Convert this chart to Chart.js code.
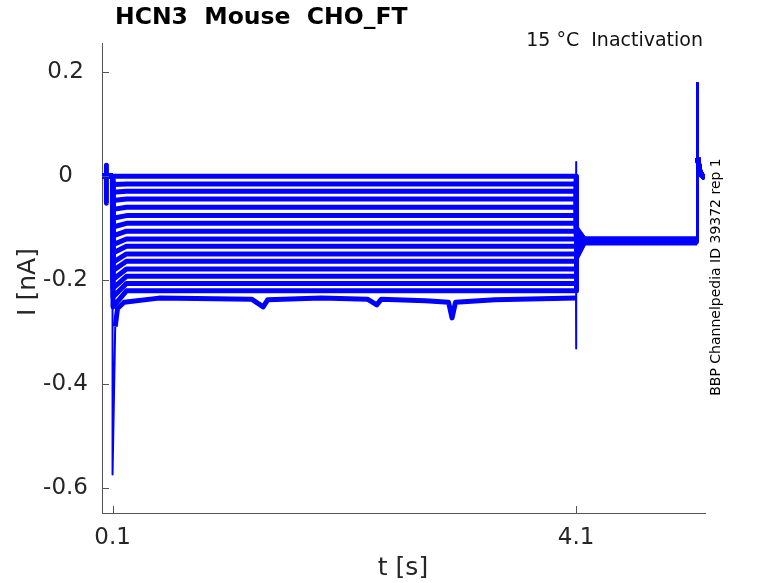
<!DOCTYPE html>
<html>
<head>
<meta charset="utf-8">
<script src="https://cdn.jsdelivr.net/npm/chart.js@4.4.1/dist/chart.umd.min.js"></script>
<style>
  html, body { margin: 0; padding: 0; background: #fff; }
  #wrap { width: 778px; height: 583px; }
</style>
</head>
<body>
<div id="wrap"><canvas id="chart1" width="778" height="583"></canvas></div>
<script>
// values (nA / s)
const xTicks = [0.1, 4.1];
const yTicks = [-0.6, -0.4, -0.2, 0, 0.2];

// steady current of each sweep during the 0.1 - 4.1 s step
const stepLevels = [0.000, -0.015, -0.029, -0.044, -0.060, -0.076, -0.091, -0.106, -0.121,
                    -0.135, -0.150, -0.164, -0.179, -0.193, -0.207, -0.221];
// current just after the step onset
const onsetLevels = [0.000, -0.016, -0.031, -0.047, -0.064, -0.081, -0.098, -0.115, -0.132,
                     -0.148, -0.166, -0.182, -0.199, -0.216, -0.233, -0.252];
// current just after the 4.1 s step back, then the common tail level
const tailOnset = [-0.100, -0.103, -0.106, -0.109, -0.112, -0.115, -0.118, -0.121, -0.124,
                   -0.127, -0.130, -0.133, -0.137, -0.141, -0.145, -0.150];
const tailLevels = [-0.121, -0.121, -0.122, -0.122, -0.123, -0.123, -0.124, -0.124, -0.125,
                    -0.125, -0.126, -0.126, -0.127, -0.127, -0.128, -0.128];

// deepest sweep, with its capacitive spikes and dips
const deepTimes  = [0.009, 0.1, 0.1, 0.123, 0.143, 0.2, 0.5, 1.3, 1.4, 1.44, 1.9, 2.3, 2.38, 2.42,
                    2.8, 3.0, 3.03, 3.06, 3.4, 3.8, 4.1, 4.1, 4.1, 4.104, 4.17, 5.145];
const deepValues = [0.000, 0.000, -0.575, -0.290, -0.255, -0.243, -0.235, -0.237, -0.252, -0.238,
                    -0.235, -0.237, -0.248, -0.237, -0.240, -0.243, -0.273, -0.243, -0.238, -0.236,
                    -0.235, 0.027, -0.332, -0.158, -0.129, -0.129];

// small artefact before the step (first sweep)
const preTimes  = [0.046, 0.046, 0.047, 0.048];
const preValues = [0.000, 0.021, -0.052, 0.000];

// end of the protocol: jump back to holding
const endTimes  = [5.145, 5.145, 5.150, 5.165, 5.185, 5.213];
const endValues = [-0.125, 0.179, 0.035, 0.012, 0.002, -0.004];

const xMin = 0.009, xMax = 5.213;
const yMin = -0.649, yMax = 0.2565;
const traceColor = '#0000ff';
const fontFamily = '"DejaVu Sans", sans-serif';

function sweepPoints(i) {
    var pts = [{x: xMin, y: 0}];
    if (i === 0) {
        for (var k = 0; k < preTimes.length; k++) pts.push({x: preTimes[k], y: preValues[k]});
    }
    pts.push({x: 0.1, y: 0});
    pts.push({x: 0.104, y: onsetLevels[i]});
    pts.push({x: 0.22, y: stepLevels[i]});
    pts.push({x: 4.1, y: stepLevels[i]});
    pts.push({x: 4.104, y: tailOnset[i]});
    pts.push({x: 4.17, y: tailLevels[i]});
    pts.push({x: 5.145, y: tailLevels[i]});
    for (var k = 1; k < endTimes.length; k++) pts.push({x: endTimes[k], y: endValues[k]});
    return pts;
}

const datasets = [];
for (var i = 0; i < stepLevels.length; i++) {
    datasets.push({ data: sweepPoints(i) });
}
const deepPts = [];
for (var k = 0; k < deepTimes.length; k++) deepPts.push({x: deepTimes[k], y: deepValues[k]});
for (var k = 1; k < endTimes.length; k++) deepPts.push({x: endTimes[k], y: endValues[k]});
datasets.push({ data: deepPts, deep: true });

// fast transients are drawn thin, the noisy sweeps thick
function segmentWidth(ctx) {
    var ds = ctx.chart.data.datasets[ctx.datasetIndex];
    var a = ds.data[ctx.p0DataIndex], b = ds.data[ctx.p1DataIndex];
    if (b.x - a.x < 0.03 && Math.abs(b.y - a.y) > 0.1 && (ds.deep || a.x > 5)) return 2;
    return undefined;
}

datasets.forEach(function (d) {
    d.borderColor = traceColor;
    d.backgroundColor = traceColor;
    d.borderWidth = 5;
    d.pointRadius = 0;
    d.fill = false;
    d.tension = 0;
    d.borderJoinStyle = 'round';
    d.segment = { borderWidth: segmentWidth };
});

// texts and inward tick marks
const decorations = {
    id: 'decorations',
    afterDraw: function (chart) {
        const ctx = chart.ctx;
        const xs = chart.scales.x, ys = chart.scales.y;
        const area = chart.chartArea;
        ctx.save();
        ctx.strokeStyle = '#555';
        ctx.lineWidth = 1;
        ctx.beginPath();
        yTicks.forEach(function (v) {
            var py = Math.round(ys.getPixelForValue(v)) + 0.5;
            ctx.moveTo(area.left, py);
            ctx.lineTo(area.left + 7, py);
        });
        xTicks.forEach(function (v) {
            var px = Math.round(xs.getPixelForValue(v)) + 0.5;
            ctx.moveTo(px, area.bottom);
            ctx.lineTo(px, area.bottom - 7);
        });
        ctx.stroke();

        ctx.fillStyle = '#000';
        ctx.textBaseline = 'middle';
        ctx.textAlign = 'left';
        ctx.font = 'bold 23.5px ' + fontFamily;
        ctx.fillText('HCN3  Mouse  CHO_FT', 115, 18);

        ctx.fillStyle = '#111';
        ctx.textAlign = 'right';
        ctx.font = '19px ' + fontFamily;
        ctx.fillText('15 °C  Inactivation', 703, 41);

        ctx.fillStyle = '#262626';
        ctx.textAlign = 'center';
        ctx.font = '25px ' + fontFamily;
        ctx.fillText('t [s]', 403, 568);

        ctx.save();
        ctx.translate(28, 282);
        ctx.rotate(-Math.PI / 2);
        ctx.fillText('I [nA]', 0, 0);
        ctx.restore();

        ctx.save();
        ctx.fillStyle = '#000';
        ctx.font = '14px ' + fontFamily;
        ctx.translate(716, 277);
        ctx.rotate(-Math.PI / 2);
        ctx.fillText('BBP Channelpedia ID 39372 rep 1', 0, 0);
        ctx.restore();
        ctx.restore();
    }
};

const Chart1 = new Chart(document.getElementById('chart1'), {
    type: 'line',
    data: { datasets: datasets },
    options: {
        responsive: false,
        animation: false,
        devicePixelRatio: 1,
        layout: { padding: { top: 43, right: 73, left: 0, bottom: 0 } },
        plugins: {
            legend: { display: false },
            tooltip: { enabled: false }
        },
        scales: {
            x: {
                type: 'linear',
                min: xMin,
                max: xMax,
                grid: { display: false, drawTicks: false },
                border: { color: '#555', width: 1 },
                ticks: {
                    color: '#262626',
                    font: { family: fontFamily, size: 23 },
                    padding: 11,
                    maxRotation: 0,
                    callback: function (v) { return v.toFixed(1); }
                },
                afterBuildTicks: function (s) { s.ticks = xTicks.map(function (v) { return {value: v}; }); },
                afterFit: function (s) { s.height = 70; }
            },
            y: {
                type: 'linear',
                min: yMin,
                max: yMax,
                grid: { display: false, drawTicks: false },
                border: { color: '#555', width: 1 },
                ticks: {
                    color: '#262626',
                    font: { family: fontFamily, size: 23 },
                    padding: 14,
                    crossAlign: 'center',
                    callback: function (v) { return v === 0 ? '0' : v.toFixed(1); }
                },
                afterBuildTicks: function (s) { s.ticks = yTicks.map(function (v) { return {value: v}; }); },
                afterFit: function (s) { s.width = 102; }
            }
        }
    },
    plugins: [decorations]
});
</script>
</body>
</html>
